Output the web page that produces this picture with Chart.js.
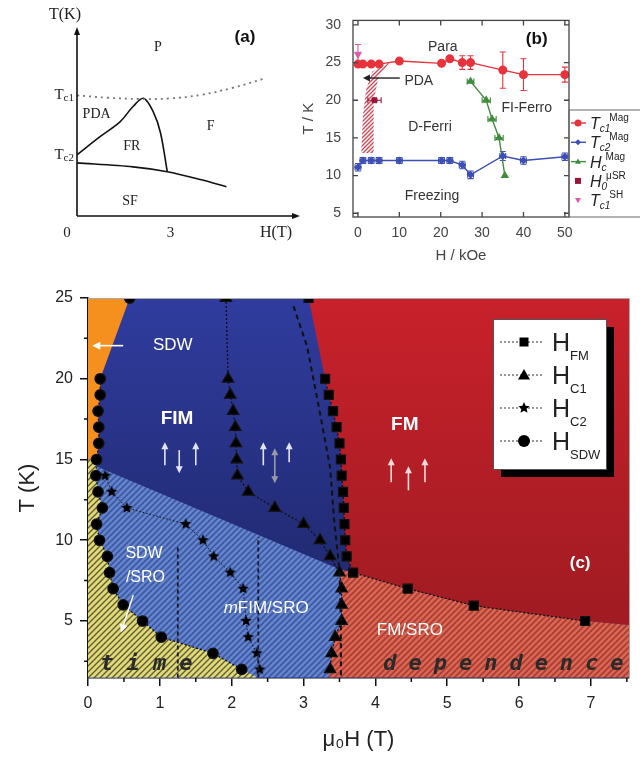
<!DOCTYPE html>
<html>
<head>
<meta charset="UTF-8">
<title>Phase diagrams</title>
<script src="https://cdn.jsdelivr.net/npm/chart.js"></script>
<style>
  body { margin: 0; background: #fff; width: 640px; height: 759px; position: relative; overflow: hidden; }
  canvas { position: absolute; }
  #chartA { left: 0; top: 0; width: 300px; height: 250px; }
  #chartB { left: 300px; top: 0; width: 340px; height: 272px; }
  #chartC { left: 0; top: 280px; width: 640px; height: 479px; }
</style>
</head>
<body>
<canvas id="chartA" width="300" height="250"></canvas>
<canvas id="chartB" width="340" height="272"></canvas>
<canvas id="chartC" width="640" height="479"></canvas>
<script>
// ---------- (a) schematic ----------
const aTc1H = [0, 1, 2, 3, 4, 5, 6];
const aTc1T = [4.0, 3.92, 3.88, 3.9, 4.02, 4.25, 4.55];
const aPdaH = [0, 0.74, 1.39, 1.8, 2.14, 2.46, 2.68, 2.9];
const aPdaT = [2.03, 2.63, 3.13, 3.63, 3.9, 3.43, 2.77, 1.47];
const aSfH = [0, 1.8, 2.9, 4.0, 4.8];
const aSfT = [1.76, 1.63, 1.47, 1.2, 0.97];

// ---------- (b) H / kOe ----------
const bH = [0, 1.2, 3.2, 5.1, 10, 20.2, 22.2, 25.2, 27.2, 35, 40, 50];
const bTc1 = [24.8, 24.8, 24.8, 24.8, 25.2, 24.9, 25.5, 25.0, 25.0, 24.0, 23.4, 23.4];
const bTc1Err = [0, 0, 0, 0, 0, 0, 0.3, 0.9, 0.9, 2.4, 2.1, 1.0];
const bTc2 = [11.1, 12, 12, 12, 12, 12, 12, 11.4, 10.1, 12.6, 12, 12.5];
const bTc2Err = [0.5, 0.4, 0.4, 0.4, 0.4, 0.4, 0.4, 0.5, 0.5, 0.6, 0.5, 0.5];
const bHcH = [27.2, 31, 32.4, 34.1, 35.5];
const bHcT = [22.5, 20, 17.5, 15, 10];
const bHcErr = [0.8, 1, 1, 1, 0];
const bMuH = [4];
const bMuT = [20];
const bMuErr = [1.6];
const bShH = [0];
const bShT = [26.1];
const bShErr = [1.3];
const bPdaH = [0.8, 1.2, 2, 3.5, 7.7, 5, 3.8, 3.8];
const bPdaT = [13, 18, 21.5, 23.8, 25, 23.2, 20, 13];
const bXTicks = [0, 10, 20, 30, 40, 50];
const bYTicks = [5, 10, 15, 20, 25, 30];

// ---------- (c) mu0H / T ----------
const cFmH = [3.07, 3.3, 3.35, 3.41, 3.46, 3.50, 3.52, 3.53, 3.55, 3.56, 3.57, 3.58, 3.60, 3.69, 4.45, 5.37, 6.92];
const cFmT = [25, 20, 19, 18, 17, 16, 15, 14, 13, 12, 11, 10, 9, 8, 7, 5.95, 5.0];
const cC1H = [1.92, 1.95, 1.98, 2.02, 2.05, 2.06, 2.07, 2.08, 2.23, 2.6, 3.0, 3.23, 3.37, 3.5, 3.53, 3.53, 3.53, 3.44, 3.39, 3.37];
const cC1T = [25, 20, 19, 18, 17, 16, 15, 14, 13, 12, 11, 10, 9, 8, 7, 6, 5, 4, 3, 2];
const cC2H = [0.24, 0.33, 0.54, 1.36, 1.6, 1.75, 1.98, 2.16, 2.2, 2.23, 2.35, 2.39];
const cC2T = [14, 13, 12, 11, 10, 9, 8, 7, 5, 4, 3, 2];
const cSdwH = [0.58, 0.17, 0.17, 0.14, 0.15, 0.15, 0.12, 0.11, 0.14, 0.2, 0.12, 0.16, 0.27, 0.3, 0.35, 0.49, 0.76, 1.02, 1.74, 2.14];
const cSdwT = [25, 20, 19, 18, 17, 16, 15, 14, 13, 12, 11, 10, 9, 8, 7, 6, 5, 4, 3, 2];
const cDashH = [2.86, 3.05, 3.23, 3.37, 3.43, 3.5, 3.52, 3.52];
const cDashT = [24.5, 22, 17.85, 14.5, 11, 8.2, 5, 1.5];
const cV1H = [1.25, 1.25];
const cV1T = [1.5, 9.6];
const cV2H = [2.37, 2.37];
const cV2T = [1.5, 10.2];
const cXTicks = [0, 1, 2, 3, 4, 5, 6, 7];
const cYTicks = [5, 10, 15, 20, 25];
// phase regions
const cOrangeH = [0, 0.58, 0.17, 0.17, 0.14, 0.15, 0.15, 0.12, 0];
const cOrangeT = [25, 25, 20, 19, 18, 17, 16, 15, 15];
const cSroH = [0, 3.5, 3.53, 3.53, 3.53, 3.44, 3.39, 3.37, 3.35, 0];
const cSroT = [14.8, 8.2, 7, 6, 5, 4, 3, 2, 1.5, 1.5];
const cYellowH = [0, 0.12, 0.11, 0.14, 0.2, 0.12, 0.16, 0.27, 0.3, 0.35, 0.49, 0.76, 1.02, 1.74, 2.14, 2.36, 0];
const cYellowT = [15, 15, 14, 13, 12, 11, 10, 9, 8, 7, 6, 5, 4, 3, 2, 1.5, 1.5];
const cRedH = [3.07, 3.3, 3.35, 3.41, 3.46, 3.50, 3.52, 3.53, 3.55, 3.56, 3.57, 3.58, 3.60, 3.69, 4.45, 5.37, 6.92, 7.6, 7.6];
const cRedT = [25, 20, 19, 18, 17, 16, 15, 14, 13, 12, 11, 10, 9, 8, 7, 5.95, 5.0, 4.72, 25];
const cFmSroH = [3.5, 3.69, 4.45, 5.37, 6.92, 7.6, 7.6, 3.35, 3.37, 3.39, 3.44, 3.53, 3.53, 3.53];
const cFmSroT = [8.2, 8, 7, 5.95, 5.0, 4.72, 1.5, 1.5, 2, 3, 4, 5, 6, 7];

function pts(xs, ys) { return xs.map((x, i) => ({ x: x, y: ys[i] })); }

function hatch(bg, fg, gap, lw) {
  const c = document.createElement('canvas');
  c.width = c.height = gap;
  const g = c.getContext('2d');
  if (bg) { g.fillStyle = bg; g.fillRect(0, 0, gap, gap); }
  g.strokeStyle = fg; g.lineWidth = lw;
  g.beginPath();
  g.moveTo(-1, gap + 1); g.lineTo(gap + 1, -1);
  g.moveTo(-1, 1); g.lineTo(1, -1);
  g.moveTo(gap - 1, gap + 1); g.lineTo(gap + 1, gap - 1);
  g.stroke();
  return g.createPattern(c, 'repeat');
}

function starImg(r) {
  const c = document.createElement('canvas');
  const s = Math.ceil(r * 2 + 2);
  c.width = c.height = s;
  const g = c.getContext('2d');
  g.fillStyle = '#000';
  g.beginPath();
  for (let i = 0; i < 10; i++) {
    const a = -Math.PI / 2 + i * Math.PI / 5;
    const rr = i % 2 ? r * 0.45 : r;
    g.lineTo(s / 2 + rr * Math.cos(a), s / 2 + rr * Math.sin(a));
  }
  g.closePath(); g.fill();
  return c;
}
const star = starImg(6);

function rich(ctx, x, y, runs, align) {
  let w = 0;
  runs.forEach(r => { ctx.font = r.font; r.w = ctx.measureText(r.text).width; w += r.w; });
  let cx = align === 'center' ? x - w / 2 : align === 'right' ? x - w : x;
  ctx.textAlign = 'left';
  runs.forEach(r => {
    ctx.font = r.font;
    ctx.fillText(r.text, cx, y + (r.dy || 0));
    cx += r.w + (r.dx || 0);
  });
}

function mark(ctx, style, x, y, r, color) {
  ctx.fillStyle = color;
  ctx.beginPath();
  if (style === 'circle') ctx.arc(x, y, r, 0, Math.PI * 2);
  else if (style === 'rect') ctx.rect(x - r, y - r, 2 * r, 2 * r);
  else if (style === 'diamond') { ctx.moveTo(x, y - r); ctx.lineTo(x + r, y); ctx.lineTo(x, y + r); ctx.lineTo(x - r, y); }
  else if (style === 'tri') { ctx.moveTo(x, y - r); ctx.lineTo(x + r, y + r * 0.75); ctx.lineTo(x - r, y + r * 0.75); }
  else if (style === 'tridown') { ctx.moveTo(x, y + r); ctx.lineTo(x + r, y - r * 0.75); ctx.lineTo(x - r, y - r * 0.75); }
  ctx.closePath();
  ctx.fill();
}

function arrow(ctx, x1, y1, x2, y2, color, lw, head) {
  const a = Math.atan2(y2 - y1, x2 - x1);
  ctx.strokeStyle = color; ctx.fillStyle = color; ctx.lineWidth = lw;
  ctx.beginPath();
  ctx.moveTo(x1, y1);
  ctx.lineTo(x2 - Math.cos(a) * head * 0.8, y2 - Math.sin(a) * head * 0.8);
  ctx.stroke();
  ctx.beginPath();
  ctx.moveTo(x2, y2);
  ctx.lineTo(x2 - head * Math.cos(a) + head * 0.5 * Math.sin(a), y2 - head * Math.sin(a) - head * 0.5 * Math.cos(a));
  ctx.lineTo(x2 - head * Math.cos(a) - head * 0.5 * Math.sin(a), y2 - head * Math.sin(a) + head * 0.5 * Math.cos(a));
  ctx.closePath();
  ctx.fill();
}

// ================= panel (a) =================
const drawA = {
  id: 'drawA',
  afterDraw(chart) {
    const { ctx, chartArea: a, scales: { x, y } } = chart;
    ctx.save();
    ctx.strokeStyle = '#111'; ctx.fillStyle = '#111'; ctx.lineWidth = 1.6;
    ctx.beginPath();
    ctx.moveTo(a.left, a.bottom); ctx.lineTo(a.left, a.top + 4);
    ctx.moveTo(a.left, a.bottom); ctx.lineTo(a.right - 4, a.bottom);
    ctx.stroke();
    ctx.beginPath();
    ctx.moveTo(a.left, a.top - 2); ctx.lineTo(a.left - 3, a.top + 6); ctx.lineTo(a.left + 3, a.top + 6); ctx.closePath(); ctx.fill();
    ctx.beginPath();
    ctx.moveTo(a.right + 2, a.bottom); ctx.lineTo(a.right - 6, a.bottom - 3); ctx.lineTo(a.right - 6, a.bottom + 3); ctx.closePath(); ctx.fill();

    ctx.textBaseline = 'middle';
    ctx.fillStyle = '#222';
    ctx.textAlign = 'center';
    ctx.font = '16px "Liberation Serif"';
    ctx.fillText('T(K)', a.left - 12, 15);
    ctx.fillText('H(T)', a.right - 22, a.bottom + 17);
    ctx.font = '15px "Liberation Serif"';
    ctx.fillText('0', a.left - 10, a.bottom + 17);
    ctx.fillText('3', x.getPixelForValue(3), a.bottom + 17);
    rich(ctx, a.left - 3, y.getPixelForValue(aTc1T[0]), [
      { text: 'T', font: '15px "Liberation Serif"' },
      { text: 'c1', font: '11px "Liberation Serif"', dy: 3 }], 'right');
    rich(ctx, a.left - 3, y.getPixelForValue(aPdaT[0]), [
      { text: 'T', font: '15px "Liberation Serif"' },
      { text: 'c2', font: '11px "Liberation Serif"', dy: 3 }], 'right');
    ctx.textAlign = 'center';
    ctx.font = '14px "Liberation Serif"';
    [['P', 2.6, 5.6], ['PDA', 0.63, 3.37], ['FR', 1.76, 2.3], ['F', 4.29, 2.96], ['SF', 1.7, 0.5]].forEach(l => {
      ctx.fillText(l[0], x.getPixelForValue(l[1]), y.getPixelForValue(l[2]));
    });
    ctx.font = 'bold 17px "Liberation Sans"';
    ctx.fillStyle = '#111';
    ctx.fillText('(a)', 245, 37);
    ctx.restore();
  }
};

new Chart(document.getElementById('chartA'), {
  type: 'scatter',
  data: {
    datasets: [
      { data: pts(aTc1H, aTc1T), showLine: true, borderColor: '#777', borderWidth: 1.8, borderDash: [2, 4], tension: 0.4, pointRadius: 0 },
      { data: pts(aPdaH, aPdaT), showLine: true, borderColor: '#111', borderWidth: 1.6, tension: 0.35, pointRadius: 0 },
      { data: pts(aSfH, aSfT), showLine: true, borderColor: '#111', borderWidth: 1.6, tension: 0.3, pointRadius: 0 }
    ]
  },
  options: {
    responsive: false,
    animation: false,
    layout: { padding: { left: 77, top: 29, right: 2, bottom: 34 } },
    plugins: { legend: { display: false }, tooltip: { enabled: false } },
    scales: {
      x: { type: 'linear', min: 0, max: 7.1, display: false },
      y: { type: 'linear', min: 0, max: 6.2, display: false }
    }
  },
  plugins: [drawA]
});

// ================= panel (b) =================
const drawB = {
  id: 'drawB',
  beforeDatasetsDraw(chart) {
    const { ctx, scales: { x, y } } = chart;
    ctx.save();
    ctx.fillStyle = hatch(null, '#d24a5a', 4, 1.4);
    ctx.beginPath();
    bPdaH.forEach((h, i) => ctx.lineTo(x.getPixelForValue(h), y.getPixelForValue(bPdaT[i])));
    ctx.closePath();
    ctx.fill();
    chart.data.datasets.forEach(ds => {
      ctx.strokeStyle = ds.borderColor; ctx.lineWidth = 1.1;
      ds.data.forEach((p, i) => {
        const px = x.getPixelForValue(p.x), py = y.getPixelForValue(p.y);
        const ey = ds.yErr ? ds.yErr[i] : 0, ex = ds.xErr ? ds.xErr[i] : 0;
        ctx.beginPath();
        if (ey) {
          const t = y.getPixelForValue(p.y + ey), b = y.getPixelForValue(p.y - ey);
          ctx.moveTo(px, t); ctx.lineTo(px, b);
          ctx.moveTo(px - 3, t); ctx.lineTo(px + 3, t);
          ctx.moveTo(px - 3, b); ctx.lineTo(px + 3, b);
        }
        if (ex) {
          const l = x.getPixelForValue(p.x - ex), r = x.getPixelForValue(p.x + ex);
          ctx.moveTo(l, py); ctx.lineTo(r, py);
          ctx.moveTo(l, py - 3); ctx.lineTo(l, py + 3);
          ctx.moveTo(r, py - 3); ctx.lineTo(r, py + 3);
        }
        ctx.stroke();
      });
    });
    ctx.restore();
  },
  afterDraw(chart) {
    const { ctx, chartArea: a, scales: { x, y } } = chart;
    ctx.save();
    ctx.strokeStyle = '#444'; ctx.lineWidth = 1.3;
    ctx.strokeRect(a.left, a.top, a.width, a.height);
    ctx.beginPath();
    bXTicks.forEach(v => {
      const px = x.getPixelForValue(v);
      ctx.moveTo(px, a.bottom); ctx.lineTo(px, a.bottom - 5);
      ctx.moveTo(px, a.top); ctx.lineTo(px, a.top + 5);
    });
    bYTicks.forEach(v => {
      const py = y.getPixelForValue(v);
      ctx.moveTo(a.left, py); ctx.lineTo(a.left + 5, py);
      ctx.moveTo(a.right, py); ctx.lineTo(a.right - 5, py);
    });
    ctx.stroke();

    ctx.fillStyle = '#333';
    ctx.textAlign = 'center'; ctx.textBaseline = 'middle';
    ctx.font = '14px "Liberation Sans"';
    [['Para', 20.5, 27.05], ['PDA', 14.7, 22.6], ['D-Ferri', 17.4, 16.4], ['FI-Ferro', 40.8, 19.0], ['Freezing', 17.9, 7.3]].forEach(l => {
      ctx.fillText(l[0], x.getPixelForValue(l[1]), y.getPixelForValue(l[2]));
    });
    ctx.font = 'bold 17px "Liberation Sans"';
    ctx.fillStyle = '#111';
    ctx.fillText('(b)', x.getPixelForValue(43.2), y.getPixelForValue(28.1));
    arrow(ctx, x.getPixelForValue(10.1), y.getPixelForValue(22.95), x.getPixelForValue(1.2), y.getPixelForValue(22.95), '#222', 1.4, 7);

    // legend box
    const lx = a.right, ly = 110;
    ctx.strokeStyle = '#666'; ctx.lineWidth = 1;
    ctx.strokeRect(lx, ly, 80, 107);
    const items = [
      ['circle', '#e8323c', 'T', 'c1', 'Mag', true],
      ['diamond', '#3d4fb5', 'T', 'c2', 'Mag', true],
      ['tri', '#3f8c3c', 'H', 'c', 'Mag', true],
      ['rect', '#9c1436', 'H', '0', 'μSR', false],
      ['tridown', '#e05aa8', 'T', 'c1', 'SH', false]
    ];
    items.forEach((it, i) => {
      const ry = 123 + i * 19.3;
      if (it[5]) {
        ctx.strokeStyle = it[1]; ctx.lineWidth = 1.4;
        ctx.beginPath(); ctx.moveTo(lx + 2, ry); ctx.lineTo(lx + 17, ry); ctx.stroke();
      }
      mark(ctx, it[0], lx + 9, ry, it[0] === 'circle' ? 3.5 : 3, it[1]);
      ctx.fillStyle = '#222';
      ctx.textBaseline = 'alphabetic';
      ctx.font = 'italic 16px "Liberation Sans"';
      ctx.textAlign = 'left';
      ctx.fillText(it[2], lx + 21, ry + 6);
      const tw = ctx.measureText(it[2]).width;
      ctx.font = 'italic 10px "Liberation Sans"';
      ctx.fillText(it[3], lx + 21 + tw, ry + 9);
      const sw = ctx.measureText(it[3]).width;
      ctx.font = '10px "Liberation Sans"';
      ctx.fillText(it[4], lx + 21 + tw + sw - 1, ry - 2);
    });
    ctx.restore();
  }
};

new Chart(document.getElementById('chartB'), {
  type: 'scatter',
  data: {
    datasets: [
      { data: pts(bH, bTc1), yErr: bTc1Err, showLine: true, borderColor: '#e8323c', backgroundColor: '#e8323c', borderWidth: 1.4, pointStyle: 'circle', pointRadius: 3.8 },
      { data: pts(bH, bTc2), yErr: bTc2Err, xErr: bH.map(() => 0.7), showLine: true, borderColor: '#3d4fb5', backgroundColor: '#3d4fb5', borderWidth: 1.4, pointStyle: 'rectRot', pointRadius: 3 },
      { data: pts(bHcH, bHcT), xErr: bHcErr, showLine: true, borderColor: '#3f8c3c', backgroundColor: '#3f8c3c', borderWidth: 1.4, pointStyle: 'triangle', pointRadius: 3.5 },
      { data: pts(bMuH, bMuT), xErr: bMuErr, borderColor: '#9c1436', backgroundColor: '#9c1436', pointStyle: 'rect', pointRadius: 3.5 },
      { data: pts(bShH, bShT), yErr: bShErr, borderColor: '#e05aa8', backgroundColor: '#e05aa8', pointStyle: 'triangle', rotation: 180, pointRadius: 4 }
    ]
  },
  options: {
    responsive: false,
    animation: false,
    layout: { padding: { left: 0, top: 13, right: 71, bottom: 0 } },
    plugins: { legend: { display: false }, tooltip: { enabled: false } },
    scales: {
      x: {
        type: 'linear', min: -1.2, max: 51,
        afterFit: s => { s.height = 55; },
        afterBuildTicks: s => { s.ticks = bXTicks.map(v => ({ value: v })); },
        grid: { display: false, drawTicks: false },
        border: { display: false },
        ticks: { color: '#444', font: { size: 14, family: 'Liberation Sans' }, padding: 8 },
        title: { display: true, text: 'H / kOe', color: '#444', font: { size: 15, family: 'Liberation Sans' }, padding: { top: 0, bottom: 7 } }
      },
      y: {
        type: 'linear', min: 4.5, max: 30.6,
        afterFit: s => { s.width = 53; },
        afterBuildTicks: s => { s.ticks = bYTicks.map(v => ({ value: v })); },
        grid: { display: false, drawTicks: false },
        border: { display: false },
        ticks: { color: '#444', font: { size: 14, family: 'Liberation Sans' }, padding: 12 },
        title: { display: true, text: 'T / K', color: '#444', font: { size: 15, family: 'Liberation Sans' }, padding: { top: 0, bottom: 0 } }
      }
    }
  },
  plugins: [drawB]
});

// ================= panel (c) =================
const hatchBlue = hatch('#6584cc', '#3c58a4', 6, 1.6);
const hatchYellow = hatch('#e2da74', '#5e5d3c', 6, 1.4);
const hatchRed = hatch('#dc6652', '#a63e35', 6, 1.6);

const regionsC = {
  id: 'regionsC',
  beforeDatasetsDraw(chart) {
    const { ctx, chartArea: a, scales: { x, y } } = chart;
    const poly = (hs, ts, style) => {
      ctx.fillStyle = style;
      ctx.beginPath();
      hs.forEach((h, i) => ctx.lineTo(x.getPixelForValue(h), y.getPixelForValue(ts[i])));
      ctx.closePath();
      ctx.fill();
    };
    ctx.save();
    ctx.beginPath(); ctx.rect(a.left, a.top, a.width, a.height); ctx.clip();
    const blue = ctx.createLinearGradient(0, a.top, 0, y.getPixelForValue(8));
    blue.addColorStop(0, '#303c9e');
    blue.addColorStop(1, '#212a72');
    ctx.fillStyle = blue;
    ctx.fillRect(a.left, a.top, a.width, a.height);
    poly(cSroH, cSroT, hatchBlue);
    poly(cYellowH, cYellowT, hatchYellow);
    poly(cOrangeH, cOrangeT, '#f5901f');
    const red = ctx.createLinearGradient(0, a.top, 0, y.getPixelForValue(5));
    red.addColorStop(0, '#c8212b');
    red.addColorStop(1, '#a11b22');
    poly(cRedH, cRedT, red);
    poly(cFmSroH, cFmSroT, hatchRed);
    ctx.restore();
  },
  afterDraw(chart) {
    const { ctx, chartArea: a, scales: { x, y } } = chart;
    ctx.save();
    // frame + minor ticks
    ctx.strokeStyle = '#aaa'; ctx.lineWidth = 1;
    ctx.beginPath();
    ctx.moveTo(a.left, a.top + 0.5); ctx.lineTo(a.right + 0.5, a.top + 0.5); ctx.lineTo(a.right + 0.5, a.bottom);
    ctx.stroke();
    ctx.strokeStyle = '#111'; ctx.lineWidth = 1.5;
    ctx.beginPath();
    for (let v = 0.5; v < 7.6; v += 1) {
      const px = x.getPixelForValue(v);
      ctx.moveTo(px, a.bottom); ctx.lineTo(px, a.bottom + 4);
    }
    for (let v = 2.5; v < 25; v += 5) {
      const py = y.getPixelForValue(v);
      ctx.moveTo(a.left, py); ctx.lineTo(a.left - 4, py);
    }
    ctx.stroke();

    const X = v => x.getPixelForValue(v), Y = v => y.getPixelForValue(v);
    ctx.textAlign = 'center'; ctx.textBaseline = 'middle';
    ctx.fillStyle = '#fff';
    ctx.font = '17px "Liberation Sans"';
    ctx.fillText('SDW', X(1.18), Y(22.05));
    arrow(ctx, X(0.49), Y(22.05), X(0.06), Y(22.05), '#fff', 1.6, 8);
    ctx.fillStyle = '#fff';
    ctx.font = '16px "Liberation Sans"';
    ctx.fillText('SDW', X(0.78), Y(9.2));
    ctx.fillText('/SRO', X(0.8), Y(7.7));
    arrow(ctx, X(0.63), Y(6.6), X(0.46), Y(4.3), '#fff', 1.4, 8);
    ctx.fillStyle = '#fff';
    ctx.font = 'bold 19px "Liberation Sans"';
    ctx.fillText('FIM', X(1.24), Y(17.5));
    ctx.fillText('FM', X(4.41), Y(17.13));
    ctx.font = 'bold 17px "Liberation Sans"';
    ctx.fillText('(c)', X(6.85), Y(8.55));
    ctx.font = '17px "Liberation Sans"';
    ctx.fillText('FM/SRO', X(4.48), Y(4.4));
    rich(ctx, X(2.48), Y(5.77), [
      { text: 'm', font: 'italic 17px "Liberation Sans"' },
      { text: 'FIM/SRO', font: '17px "Liberation Sans"' }], 'center');

    // spin arrows
    const up = (h, t0, t1, c) => arrow(ctx, X(h), Y(t0), X(h), Y(t1), c, 1.6, 7);
    up(1.07, 14.64, 16.07, '#e4e4ff');
    up(1.27, 15.58, 14.15, '#e4e4ff');
    up(1.50, 14.64, 16.07, '#e4e4ff');
    up(2.44, 14.64, 16.07, '#e4e4ff');
    up(2.80, 14.83, 16.07, '#e4e4ff');
    arrow(ctx, X(2.60), Y(14.6), X(2.60), Y(15.7), '#9a9aa8', 1.6, 7);
    arrow(ctx, X(2.60), Y(14.6), X(2.60), Y(13.53), '#9a9aa8', 1.6, 7);
    up(4.22, 13.59, 15.08, '#f6dada');
    up(4.46, 13.09, 14.58, '#f6dada');
    up(4.69, 13.59, 15.08, '#f6dada');

    // letter-spaced words at the bottom
    ctx.fillStyle = '#2a2a2a';
    ctx.font = 'bold italic 22px "DejaVu Sans Mono"';
    const spread = (word, h0, h1, t) => {
      const step = (h1 - h0) / (word.length - 1);
      [...word].forEach((ch, i) => ctx.fillText(ch, X(h0 + i * step), Y(t)));
    };
    spread('time', 0.17, 1.27, 2.3);
    spread('dependence', 4.11, 7.27, 2.3);

    // legend with shadow
    const bx = a.right - 136, by = a.top + 21, bw = 113, bh = 150;
    ctx.fillStyle = '#000';
    ctx.fillRect(bx + 8, by + 8, bw, bh);
    ctx.fillStyle = '#fff';
    ctx.fillRect(bx, by, bw, bh);
    ctx.strokeStyle = '#555'; ctx.lineWidth = 1;
    ctx.strokeRect(bx + 0.5, by + 0.5, bw, bh);
    const rows = [['rect', 'FM'], ['tri', 'C1'], ['star', 'C2'], ['circle', 'SDW']];
    rows.forEach((r, i) => {
      const ry = by + 23 + i * 33;
      ctx.strokeStyle = '#777'; ctx.lineWidth = 1.3; ctx.setLineDash([2, 2]);
      ctx.beginPath(); ctx.moveTo(bx + 7, ry); ctx.lineTo(bx + 49, ry); ctx.stroke();
      ctx.setLineDash([]);
      if (r[0] === 'star') ctx.drawImage(star, bx + 31 - star.width / 2, ry - star.height / 2);
      else mark(ctx, r[0], bx + 31, ry, r[0] === 'rect' ? 4.5 : 6, '#000');
      ctx.fillStyle = '#222';
      ctx.textBaseline = 'alphabetic';
      rich(ctx, bx + 59, ry + 9, [
        { text: 'H', font: '25px "Liberation Sans"' },
        { text: r[1], font: '13px "Liberation Sans"', dy: 9 }], 'left');
    });
    ctx.restore();
  }
};

const dotted = { showLine: true, borderColor: '#111', backgroundColor: '#000', borderWidth: 1.3, borderDash: [2, 2] };
const skipFirst = { borderColor: c => (c.p0DataIndex === 0 ? 'rgba(0,0,0,0)' : undefined) };

new Chart(document.getElementById('chartC'), {
  type: 'scatter',
  data: {
    datasets: [
      { data: pts(cV1H, cV1T), showLine: true, borderColor: '#1a1a2a', borderWidth: 1.8, borderDash: [4, 3], pointRadius: 0 },
      { data: pts(cV2H, cV2T), showLine: true, borderColor: '#1a1a2a', borderWidth: 1.8, borderDash: [4, 3], pointRadius: 0 },
      { data: pts(cDashH, cDashT), showLine: true, borderColor: '#111', borderWidth: 2, borderDash: [5, 4], pointRadius: 0 },
      Object.assign({}, dotted, { data: pts(cFmH, cFmT), pointStyle: 'rect', pointRadius: 6.3, segment: skipFirst }),
      Object.assign({}, dotted, { data: pts(cC1H, cC1T), pointStyle: 'triangle', pointRadius: 6.5 }),
      Object.assign({}, dotted, { data: pts(cC2H, cC2T), pointStyle: star, borderWidth: 1, borderDash: [1.5, 2] }),
      Object.assign({}, dotted, { data: pts(cSdwH, cSdwT), pointStyle: 'circle', pointRadius: 5.2, segment: skipFirst })
    ]
  },
  options: {
    responsive: false,
    animation: false,
    layout: { padding: { left: 0, top: 18, right: 11, bottom: 0 } },
    plugins: { legend: { display: false }, tooltip: { enabled: false } },
    scales: {
      x: {
        type: 'linear', min: 0, max: 7.53,
        afterFit: s => { s.height = 81; },
        afterBuildTicks: s => { s.ticks = cXTicks.map(v => ({ value: v })); },
        grid: { drawOnChartArea: false, color: '#111', tickLength: 8, lineWidth: 1.5 },
        border: { color: '#111', width: 1.5 },
        ticks: { color: '#222', font: { size: 16, family: 'Liberation Sans' }, padding: 8 },
        title: { display: true, text: 'μ₀H (T)', color: '#222', font: { size: 22, family: 'Liberation Sans' }, padding: { top: 0, bottom: 6 } }
      },
      y: {
        type: 'linear', min: 1.47, max: 25,
        afterFit: s => { s.width = 88; },
        afterBuildTicks: s => { s.ticks = cYTicks.map(v => ({ value: v })); },
        grid: { drawOnChartArea: false, color: '#111', tickLength: 8, lineWidth: 1.5 },
        border: { color: '#111', width: 1.5 },
        ticks: { color: '#222', font: { size: 16, family: 'Liberation Sans' }, padding: 7 },
        title: { display: true, text: 'T (K)', color: '#222', font: { size: 22, family: 'Liberation Sans' }, padding: { top: 15, bottom: 0 } }
      }
    }
  },
  plugins: [regionsC]
});
</script>
</body>
</html>
